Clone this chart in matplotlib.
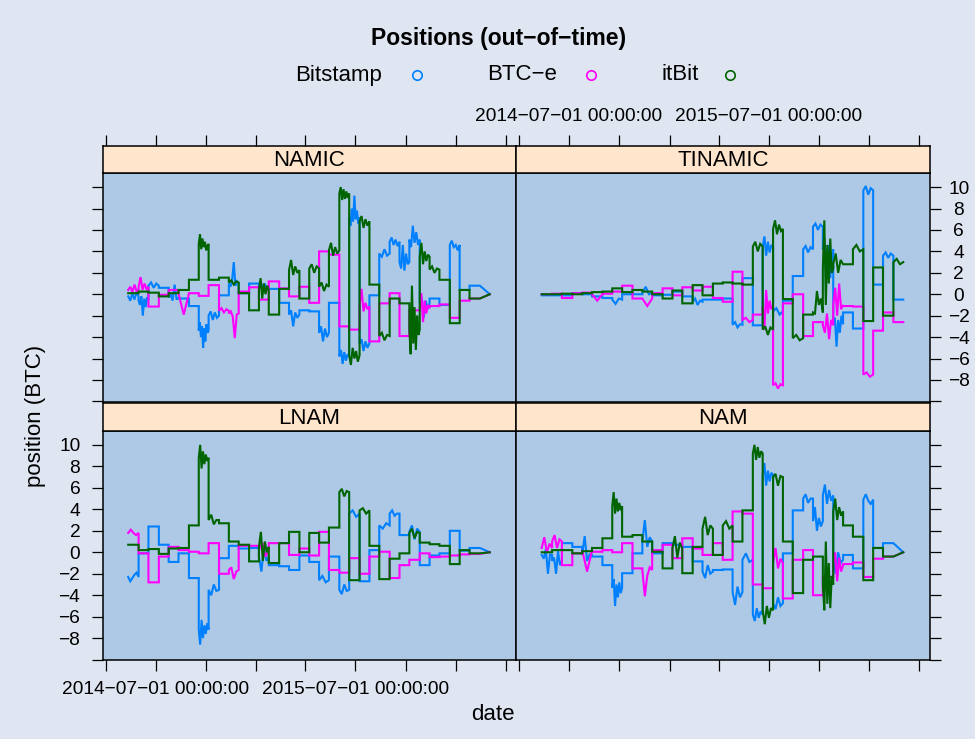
import numpy as np
import pandas as pd
import matplotlib
matplotlib.use("Agg")
import matplotlib.pyplot as plt
import matplotlib.dates as mdates

plt.rcParams["font.family"] = ["Liberation Sans", "DejaVu Sans"]

nan = np.nan

# Rebalancing periods: start dates, plus the final date of the sample
period_start = [
    "2014-05-12", "2014-05-31", "2014-06-18", "2014-07-07", "2014-07-25",
    "2014-08-12", "2014-08-31", "2014-09-18", "2014-10-06", "2014-10-25",
    "2014-11-12", "2014-11-30", "2014-12-19", "2015-01-06", "2015-01-24",
    "2015-02-12", "2015-03-02", "2015-03-21", "2015-04-08", "2015-04-26",
    "2015-05-14", "2015-06-02", "2015-06-20", "2015-07-09", "2015-07-27",
    "2015-08-14", "2015-09-02", "2015-09-20", "2015-10-08", "2015-10-27",
    "2015-11-14", "2015-12-02", "2015-12-21", "2016-01-08", "2016-01-26",
    "2016-02-14", "2016-03-03",
]

exchanges = ["Bitstamp", "BTC\u2212e", "itBit"]
series_colors = ["#0080ff", "#ff00ff", "#006400"]
panel_names = ["NAMIC", "TINAMIC", "LNAM", "NAM"]

# Position held in each period (BTC); last entry = value on the final date.
# nan = no observation in that period (line is bridged).
namic_bitstamp = [-0.2, -0.6, 0.8, 0.6, -0.3, -0.4, -1.1, -3.4, -2.0, -0.1,
                  1.0, 0.1, 1.0, 0.7, 0.5, -0.8, -1.9, -1.5, -1.6, -3.6,
                  -0.8, -5.8, 7.2, -4.6, -0.1, 3.8, 4.9, 3.0, 5.1, -0.85,
                  -0.4, -1.0, 4.6, 0.4, 0.8, nan, 0.0]
namic_btce = [0.4, 0.7, -1.15, -0.05, 0.4, 0.05, 0.1, -0.15, 0.85, -1.55,
              -1.8, 0.25, 0.65, -0.5, 1.2, 0.55, -0.2, 0.7, -0.8, 4.0,
              3.7, -3.0, -3.3, -1.15, -4.4, -0.85, 0.1, -3.9, -1.5, -1.3,
              -1.1, -0.95, -2.2, -0.6, -0.4, nan, 0.0]
namic_itbit = [0.1, 0.25, 0.15, -0.2, 0.1, 0.4, 1.35, 4.7, 1.35, 1.55,
               1.1, 0.1, -1.5, 0.4, -1.9, 0.5, 2.25, -0.4, 2.4, 0.7,
               4.1, 9.4, -5.7, 6.8, 0.9, -3.9, -0.4, -0.85, -3.3, 3.5,
               2.3, 1.35, -2.7, 0.4, -0.4, nan, 0.0]

tinamic_bitstamp = [-0.1, -0.1, -0.1, 0.1, 0.0, -0.2, -0.35, -0.5, 0.0, 0.0,
                    0.1, -0.1, -0.05, 0.25, -0.2, -0.7, -0.5, -0.5, -0.4, -2.85,
                    1.5, -2.9, 4.4, -1.6, -0.6, 1.7, 4.2, 6.3, 4.2, -2.8,
                    -1.7, -3.2, 9.7, 0.9, 3.6, -0.5, nan]
tinamic_btce = [0.0, 0.05, -0.35, 0.1, 0.15, 0.0, 0.05, 0.25, 0.8, -0.4,
                -0.4, 0.1, 0.55, -0.1, 0.65, 0.35, 0.7, -0.35, -0.7, 2.1,
                -2.4, -1.9, -1.15, -8.5, -0.85, 0.0, -3.9, -2.6, -2.9, -1.0,
                -1.1, -1.15, -7.5, -3.4, -1.7, -2.6, nan]
tinamic_itbit = [0.0, 0.0, 0.05, 0.0, 0.1, 0.2, 0.25, 0.55, 0.2, 0.4,
                 0.25, 0.0, -0.4, 0.35, -0.85, 0.85, -0.1, 1.0, 1.1, 1.0,
                 0.9, 4.45, -3.3, 6.1, -0.45, -4.1, -1.9, -1.7, 2.4, 2.8,
                 2.8, 4.2, -2.5, 2.5, -2.0, 3.0, nan]

lnam_bitstamp = [-2.3, -0.1, 2.4, 0.7, -0.9, -0.1, -2.4, -7.2, -3.5, -0.55,
                 0.6, 0.35, 0.4, -0.4, -1.2, -1.3, -1.65, -0.3, -0.9, -2.6,
                 -0.4, -3.5, 3.6, -2.7, 0.2, 2.5, 3.6, 1.6, 1.9, -1.2,
                 -0.3, -0.1, 2.0, 0.15, 0.4, nan, 0.0]
lnam_btce = [1.8, -0.1, -2.8, -0.4, 0.5, 0.2, 0.05, -0.1, 0.85, -2.0,
             -1.65, 0.6, 0.6, 0.2, 0.85, 0.85, -0.25, 0.35, -0.3, 1.9,
             -1.65, -1.9, -0.55, -2.0, -0.4, 0.05, -2.4, -1.2, -0.7, -0.1,
             -0.45, -0.4, -0.3, -0.2, -0.15, nan, 0.0]
lnam_itbit = [0.7, 0.2, 0.3, -0.15, 0.35, 0.4, 2.5, 8.8, 3.0, 2.7,
              1.0, 0.7, -0.85, 0.5, -1.0, 0.85, 1.9, 0.0, 1.8, 0.9,
              2.3, 5.6, -2.6, 3.9, 0.6, -2.5, -0.6, -0.1, 1.8, 0.9,
              0.75, 0.6, -1.1, 0.2, -0.1, nan, 0.0]

nam_bitstamp = [-0.25, -0.8, 0.85, 0.5, -0.25, -0.4, -1.2, -3.3, -1.95, -0.1,
                1.0, -0.1, 0.85, 0.7, 0.5, -0.85, -1.8, -1.65, -1.6, -3.7,
                -0.7, -5.8, 7.2, -4.75, -0.1, 3.9, 5.0, 2.9, 5.3, -0.7,
                -0.25, -1.5, 4.9, 0.4, 0.85, nan, 0.0]
nam_btce = [0.4, 1.0, -1.2, -0.1, 0.2, 0.05, 0.2, 0.0, 0.85, -1.5,
            -1.65, 0.2, 0.7, -0.55, 1.3, 0.35, -0.25, 0.85, -0.7, 3.8,
            3.6, -3.0, -3.35, -1.0, -4.3, -0.7, 0.2, -4.0, -2.3, -1.2,
            -1.1, -0.95, -2.3, -0.6, -0.4, nan, 0.0]
nam_itbit = [0.0, 0.2, 0.2, -0.1, 0.1, 0.4, 1.3, 4.3, 1.45, 1.6,
             1.0, 0.05, -1.5, 0.35, -1.95, 0.5, 2.2, -0.25, 2.5, 1.0,
             3.9, 9.2, -5.4, 7.0, 1.0, -3.8, -0.7, -0.4, -3.0, 3.8,
             2.5, 1.45, -2.6, 0.4, -0.4, nan, 0.0]

# Intra-period swings (period index -> successive observed highs/lows)
namic_bitstamp_ext = {0: [-0.6, 0.1, -0.5, 0.2], 1: [-1.0, -0.2, -2.0, -0.4, -1.2, -0.3],
                      2: [1.1, 0.6, 1.0], 4: [0.0, -0.6, 0.9, -0.5],
                      7: [-2.6, -4.0, -3.0, -5.0, -3.2, -4.4, -2.8, -3.6],
                      8: [-1.6, -2.4, -1.7, -2.2], 10: [0.7, 1.3, 3.0, 0.8, 1.2],
                      13: [1.2, 0.3, 1.0, 0.4], 16: [-1.5, -3.0, -1.7, -2.2],
                      19: [-3.0, -4.4, -3.2, -4.0], 21: [-5.2, -6.5, -5.4, -6.2, -5.6],
                      22: [6.4, 8.0, 6.8, 9.2, 7.0, 7.8, 6.6], 23: [-4.2, -5.3, -4.4, -5.0],
                      25: [3.5, 4.2, 3.6], 26: [5.3, 4.6, 5.1, 4.5],
                      27: [2.4, 4.6, 2.2, 3.8, 2.8], 28: [4.4, 6.4, 4.8, 5.8, 4.6],
                      29: [-0.3, -2.2, -0.6, -1.4], 32: [5.0, 4.4, 4.6, 4.1]}
namic_btce_ext = {0: [0.7, 0.2, 0.9, 0.3], 1: [1.6, 0.4, 1.0, 0.5], 5: [-1.9],
                  9: [-1.3, -1.7, -1.4], 10: [-1.6, -2.1, -4.1, -1.9],
                  23: [0.5, -1.6, -0.8, -1.4], 29: [0.1, -2.6, -0.6, -1.8, -1.0]}
namic_itbit_ext = {7: [5.6, 4.2, 5.2, 4.4, 4.9, 4.1, 4.5], 10: [1.3, 0.9, 1.2],
                   13: [1.5, -0.4, 1.0, 0.0, 0.8], 16: [3.2, 1.8, 2.6, 2.0],
                   18: [2.8, 2.0, 2.6], 19: [1.1, 0.3, 0.9], 20: [4.8, 3.6, 4.4, 3.8],
                   21: [10.0, 8.8, 9.8, 8.9, 9.6, 9.0], 22: [-6.6, -5.0, -6.0, -5.3, -6.3],
                   23: [7.3, 6.2, 7.0, 6.4], 25: [-3.6, -4.3, -3.8],
                   28: [-5.6, 0.8, -4.6, -1.2, -5.2, -2.0, -3.8],
                   29: [4.8, 2.8, 4.0, 3.1, 3.7], 30: [2.6, 2.0, 2.4]}

tinamic_bitstamp_ext = {7: [-0.9, -0.4], 10: [0.7, 0.0], 15: [-0.4, -1.0, -0.6],
                        19: [-2.6, -3.1, -2.8], 22: [5.4, 3.6, 4.9, 3.9, 4.6],
                        23: [-1.3, -1.9], 26: [4.5, 3.9, 4.4], 27: [6.6, 6.0, 6.5],
                        28: [5.3, 2.8, 3.6, 4.6, 1.5, 3.4],
                        29: [-2.2, -4.9, -2.4, -3.6, -2.0], 32: [10.1, 9.3, 9.9],
                        34: [3.9, 3.4, 3.8]}
tinamic_btce_ext = {5: [-0.6], 10: [-1.1], 20: [-2.2, -2.6],
                    22: [-3.3, 0.4, -1.8, -0.6, -1.4], 23: [-8.3, -8.8, -8.4],
                    28: [-3.6, -1.8, -4.2, -2.4], 29: [0.6, -2.0, 1.0, -1.4],
                    32: [-7.3, -7.7]}
tinamic_itbit_ext = {21: [4.9, 4.0, 4.7], 22: [-3.0, -3.8, -3.1],
                     23: [6.9, 5.6, 6.5, 5.9], 25: [-3.8, -4.3],
                     27: [-1.8, 0.3, -1.0, -0.4], 28: [6.9, -1.0, 4.6, 1.0, 5.2, 2.0],
                     29: [3.8, 2.0, 3.2], 31: [4.6, 4.0], 35: [3.3, 2.8]}

lnam_bitstamp_ext = {0: [-2.7, -2.4, -2.1, -1.9], 7: [-8.6, -6.3, -8.0, -6.8, -7.6, -6.6],
                     8: [-4.0, -3.0, -3.6], 13: [-1.8, 0.4, -0.8], 19: [-2.2, -2.8],
                     21: [-3.9, -3.0, -3.6], 22: [3.9, 3.3], 25: [2.2, 2.7],
                     26: [3.9, 3.4, 3.6], 28: [2.5, 1.2, 2.2]}
lnam_btce_ext = {0: [2.1, 1.8, 1.6], 10: [-1.4, -2.5, -1.8], 13: [0.9, -0.4]}
lnam_itbit_ext = {7: [10.0, 7.8, 9.4, 8.2, 9.1, 8.5], 8: [3.5, 2.6, 3.0],
                  13: [1.9, -0.8, 1.0, 0.0], 21: [5.9, 5.2, 5.7], 23: [4.1, 3.6],
                  28: [2.2, 1.3, 1.9]}

nam_bitstamp_ext = {0: [-0.6, 0.3, -2.0, -0.2], 1: [-0.5, -2.0, 0.1, -1.2],
                    4: [1.5, -0.8, -0.2], 7: [-2.5, -5.0, -3.0, -4.2, -2.8, -3.8],
                    10: [3.0, 0.5, 1.4], 16: [-2.4, -1.2, -2.0], 19: [-4.9, -3.2, -4.2],
                    20: [-0.1, -0.9], 21: [-6.4, -5.2, -6.1, -5.5],
                    22: [8.3, 6.2, 7.6, 6.6, 7.4], 23: [-5.3, -4.2, -5.0],
                    26: [5.4, 4.6, 5.0], 27: [4.2, 2.0, 3.2, 2.4],
                    28: [6.3, 4.5, 5.8, 4.8], 29: [-2.0, 0.0, -1.0], 32: [5.4, 4.8, 4.5]}
nam_btce_ext = {0: [1.4, 0.0, 0.8], 1: [1.6, 0.4, 1.2], 4: [-1.8],
                10: [-4.1, -2.2, -1.4], 23: [0.4, -1.5, -0.6],
                29: [0.0, -2.7, -0.5, -1.8]}
nam_itbit_ext = {7: [5.6, 3.6, 5.0, 3.8, 4.6, 3.9], 13: [1.5, -0.5, 0.9],
                 16: [3.3, 1.6, 2.5], 18: [2.9, 2.2], 21: [10.0, 8.6, 9.8, 8.8, 9.4],
                 22: [-6.7, -5.0, -6.1, -5.2], 23: [7.3, 6.2, 7.1],
                 28: [-5.4, 1.0, -4.8, -1.0, -5.2, -2.2], 29: [5.0, 3.0, 4.2, 3.4]}

panel_levels = {
    "NAMIC": [namic_bitstamp, namic_btce, namic_itbit],
    "TINAMIC": [tinamic_bitstamp, tinamic_btce, tinamic_itbit],
    "LNAM": [lnam_bitstamp, lnam_btce, lnam_itbit],
    "NAM": [nam_bitstamp, nam_btce, nam_itbit],
}
panel_extremes = {
    "NAMIC": [namic_bitstamp_ext, namic_btce_ext, namic_itbit_ext],
    "TINAMIC": [tinamic_bitstamp_ext, tinamic_btce_ext, tinamic_itbit_ext],
    "LNAM": [lnam_bitstamp_ext, lnam_btce_ext, lnam_itbit_ext],
    "NAM": [nam_bitstamp_ext, nam_btce_ext, nam_itbit_ext],
}

x_tick_dates = ["2014-04-01", "2014-07-01", "2014-10-01", "2015-01-01",
                "2015-04-01", "2015-07-01", "2015-10-01", "2016-01-01",
                "2016-04-01"]
x_tick_labels = ["", "2014\u221207\u221201 00:00:00", "", "",
                 "", "2015\u221207\u221201 00:00:00", "", "", ""]
y_ticks = [-10, -8, -6, -4, -2, 0, 2, 4, 6, 8, 10]
y_tick_labels = ["" if v == -10 else str(v).replace("-", "\u2212") for v in y_ticks]

t_num = mdates.date2num(pd.to_datetime(period_start))
x_lo = mdates.date2num(pd.Timestamp("2014-03-26"))
x_hi = mdates.date2num(pd.Timestamp("2016-04-20"))
Y_LIM = (-10.03, 11.29)


def build_trace(levels, extremes):
    """Connect period levels; swings within a period are joined point to point."""
    xs, ys = [], []
    n = len(t_num) - 1
    for k in range(n):
        lev = levels[k]
        if np.isnan(lev):
            continue
        xs.append(t_num[k])
        ys.append(lev)
        ext = extremes.get(k, [])
        for i, v in enumerate(ext):
            xs.append(t_num[k] + (t_num[k + 1] - t_num[k]) * (i + 1) / (len(ext) + 1))
            ys.append(v)
        xs.append(t_num[k + 1])
        ys.append(lev)
    if not np.isnan(levels[n]):
        xs.append(t_num[n])
        ys.append(levels[n])
    return xs, ys


W, H = 975, 739
fig = plt.figure(figsize=(W / 100, H / 100), dpi=100, facecolor="#dfe6f2")


def add_px_axes(x0, y0, x1, y1, **kw):
    return fig.add_axes([x0 / W, 1 - y1 / H, (x1 - x0) / W, (y1 - y0) / H], **kw)


PANEL_BG = "#aec9e5"
STRIP_BG = "#ffe5cc"
TICK_LEN = 8.0
TICK_FS = 13.8

# (panel box, strip box) in pixel coordinates
layout = {
    "NAMIC": ((102.5, 173.3, 516, 401.7), (102.5, 145.7, 516, 173.3)),
    "TINAMIC": ((516, 173.3, 929.5, 401.7), (516, 145.7, 929.5, 173.3)),
    "LNAM": ((102.5, 431.0, 516, 660.0), (102.5, 402.5, 516, 431.0)),
    "NAM": ((516, 431.0, 929.5, 660.0), (516, 402.5, 929.5, 431.0)),
}

for name in panel_names:
    pbox, sbox = layout[name]
    ax = add_px_axes(*pbox, facecolor=PANEL_BG)
    for lev, ext, col in zip(panel_levels[name], panel_extremes[name], series_colors):
        xs, ys = build_trace(lev, ext)
        ax.plot(xs, ys, color=col, lw=1.5, solid_joinstyle="miter")
    ax.set_xlim(x_lo, x_hi)
    ax.set_ylim(*Y_LIM)
    for sp in ax.spines.values():
        sp.set_linewidth(1.1)

    ax.set_xticks(mdates.date2num(pd.to_datetime(x_tick_dates)))
    ax.set_yticks(y_ticks)
    ax.tick_params(direction="out", length=TICK_LEN, width=0.9, labelsize=TICK_FS,
                   colors="black")
    bottom_row = name in ("LNAM", "NAM")
    left_col = name in ("NAMIC", "LNAM")

    # x axis: ticks below the bottom row, labels under the left panel only
    ax.tick_params(axis="x", bottom=bottom_row, top=False, labelbottom=(name == "LNAM"),
                   labeltop=False, pad=7)
    if name == "LNAM":
        ax.set_xticklabels(x_tick_labels)
    else:
        ax.set_xticklabels([""] * len(x_tick_labels))

    # y axis: left ticks on left column, right ticks on right column
    ax.tick_params(axis="y", left=left_col, right=not left_col,
                   labelleft=(name == "LNAM"), labelright=(name == "TINAMIC"))
    ax.set_yticklabels(y_tick_labels)
    if name == "TINAMIC":
        ax.tick_params(axis="y", pad=13)
        for lab in ax.get_yticklabels():
            lab.set_horizontalalignment("center")
    if name == "LNAM":
        ax.tick_params(axis="y", pad=8)

    # strip with panel name; top row strips carry the top axis ticks
    sx = add_px_axes(*sbox, facecolor=STRIP_BG)
    sx.set_xlim(x_lo, x_hi)
    sx.set_yticks([])
    for sp in sx.spines.values():
        sp.set_linewidth(1.1)
    sx.text(0.5, 0.45, name, transform=sx.transAxes, ha="center", va="center",
            fontsize=16)
    if not bottom_row:
        sx.set_xticks(mdates.date2num(pd.to_datetime(x_tick_dates)))
        sx.tick_params(axis="x", direction="out", length=TICK_LEN, width=0.9,
                       bottom=False, top=True, labelbottom=False,
                       labeltop=(name == "TINAMIC"), labelsize=TICK_FS, pad=7)
        sx.set_xticklabels(x_tick_labels if name == "TINAMIC" else [""] * len(x_tick_labels))
    else:
        sx.set_xticks([])

# Title, legend and axis labels on a full-figure overlay
ov = fig.add_axes([0, 0, 1, 1], facecolor="none")
ov.set_xlim(0, W)
ov.set_ylim(H, 0)
ov.axis("off")
ov.text(499, 38, "Positions (out\u2212of\u2212time)", ha="center", va="center",
        fontsize=16.5, fontweight="bold")
legend_text_x = [295, 486.7, 661.7]
legend_mark_x = [416.7, 590.7, 730]
for lbl, col, tx, mx in zip(exchanges, series_colors, legend_text_x, legend_mark_x):
    ov.text(tx, 75, lbl, ha="left", va="center", fontsize=16)
    ov.plot([mx], [75], marker="o", ms=6.8, mfc="none", mec=col, mew=1.2, ls="none")
ov.text(36, 416, "position (BTC)", rotation=90, ha="center", va="center", fontsize=16)
ov.text(493, 715, "date", ha="center", va="center", fontsize=16)

fig.savefig("out.png", dpi=100, facecolor=fig.get_facecolor())
